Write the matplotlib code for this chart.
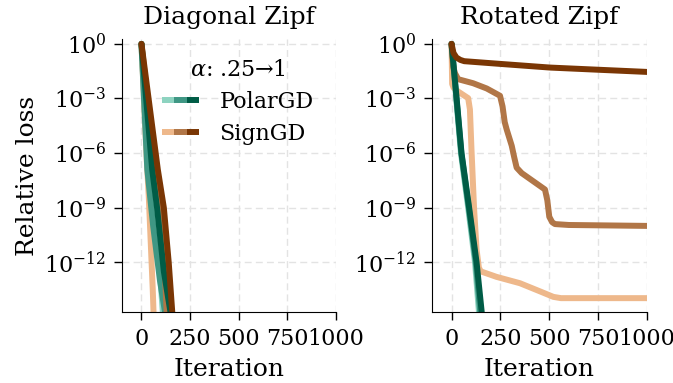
import matplotlib
matplotlib.use("Agg")
import matplotlib.pyplot as plt
from matplotlib.lines import Line2D
from matplotlib.legend_handler import HandlerTuple
import numpy as np

plt.rcParams['font.family'] = ['DejaVu Serif']
plt.rcParams['mathtext.fontset'] = 'dejavuserif'

alphas = [".25", ".5", "1"]
polar_colors = ["#8dd3c0", "#3f9784", "#005c46"]
sign_colors = ["#eeb88b", "#b17647", "#7a3604"]

# Diagonal Zipf: (iteration, log10 relative loss)
diag_polar_x = [[0, 20, 40, 62, 95, 118],
                [0, 30, 60, 95, 125, 135],
                [0, 55, 80, 115, 150, 158]]
diag_polar_y = [[0, -4.0, -6.9, -9.0, -12.5, -16],
                [0, -6.9, -10.0, -13.0, -15.0, -16],
                [0, -6.9, -9.0, -12.5, -14.8, -16]]
diag_sign_x = [[0, 28, 38, 48, 58, 66],
               [0, 70, 100, 120, 135],
               [0, 84, 115, 140, 160, 165]]
diag_sign_y = [[0, -6.5, -8.5, -11.0, -13.5, -16],
               [0, -6.9, -9.0, -12.5, -16],
               [0, -6.9, -9.0, -12.0, -15.0, -16]]

# Rotated Zipf
rot_polar_x = [[0, 24, 48, 85, 120, 140, 145],
               [0, 25, 50, 88, 124, 148, 152],
               [0, 26, 51, 90, 128, 154, 160]]
rot_polar_y = [[0, -3, -6, -9, -12, -14.7, -16],
               [0, -3, -6, -9, -12, -14.9, -16],
               [0, -3, -6, -9, -12, -14.7, -16]]
rot_sign_x = [[0, 3, 10, 34, 85, 94, 102, 115, 128, 140, 150, 230, 350, 453, 521, 560, 1000],
              [0, 8, 17, 34, 110, 180, 248, 261, 272, 282, 308, 320, 333, 359, 478, 490, 500, 515, 529, 600, 1000],
              [0, 10, 25, 45, 65, 250, 503, 750, 1000]]
rot_sign_y = [[0, -2.2, -2.4, -2.62, -2.98, -3.6, -5.8, -9.0, -11.3, -12.3, -12.5, -12.8, -13.15, -13.6, -13.9, -13.97, -13.97],
              [0, -1.2, -1.6, -1.94, -2.16, -2.45, -2.85, -3.44, -4.3, -4.7, -5.6, -6.2, -6.8, -7.1, -8.0, -8.6, -9.5, -9.8, -9.9, -9.95, -10.0],
              [0, -0.5, -0.75, -0.88, -0.95, -1.1, -1.3, -1.42, -1.54]]

titles = ["Diagonal Zipf", "Rotated Zipf"]
yticks = [1e0, 1e-3, 1e-6, 1e-9, 1e-12]
xticks = [0, 250, 500, 750, 1000]

fig = plt.figure(figsize=(6.73, 3.83), dpi=100)
ax1 = fig.add_axes([0.1813, 0.1854, 0.318, 0.7128])
ax2 = fig.add_axes([0.6419, 0.1854, 0.3195, 0.7128])

panels = [(ax1, diag_polar_x, diag_polar_y, diag_sign_x, diag_sign_y),
          (ax2, rot_polar_x, rot_polar_y, rot_sign_x, rot_sign_y)]

lw = 4.3
for i, (ax, px, py, sx, sy) in enumerate(panels):
    for k in range(3):
        ax.plot(px[k], 10.0 ** np.array(py[k]), color=polar_colors[k], lw=lw,
                solid_capstyle='round', solid_joinstyle='round')
        ax.plot(sx[k], 10.0 ** np.array(sy[k]), color=sign_colors[k], lw=lw,
                solid_capstyle='round', solid_joinstyle='round')
    ax.set_yscale('log')
    ax.set_ylim(1.86e-15, 1.86)
    ax.set_xlim(-100, 1000)
    ax.set_yticks(yticks)
    ax.yaxis.set_minor_locator(matplotlib.ticker.NullLocator())
    ax.set_xticks(xticks)
    ax.tick_params(labelsize=16, length=5.5, width=1.0, pad=6)
    ax.grid(True, ls=(0, (5, 3)), color='#e3e3e3', lw=1.0)
    ax.set_axisbelow(True)
    for s in ['top', 'right']:
        ax.spines[s].set_visible(False)
    ax.set_title(titles[i], fontsize=18, pad=11)
    ax.set_xlabel("Iteration", fontsize=18, labelpad=6)

ax1.set_ylabel("Relative loss", fontsize=18, labelpad=4)

polar_handles = tuple(Line2D([], [], color=c, lw=lw, solid_capstyle='butt') for c in polar_colors)
sign_handles = tuple(Line2D([], [], color=c, lw=lw, solid_capstyle='butt') for c in sign_colors)
leg = ax1.legend([polar_handles, sign_handles], ["PolarGD", "SignGD"],
                 handler_map={tuple: HandlerTuple(ndivide=None, pad=0)},
                 title=r"$\alpha$: .25→1", fontsize=16, title_fontsize=16,
                 frameon=False, loc='center', bbox_to_anchor=(0.54, 0.77),
                 handlelength=1.7, handletextpad=0.9, labelspacing=0.45)

fig.savefig("out.png", dpi=100)
